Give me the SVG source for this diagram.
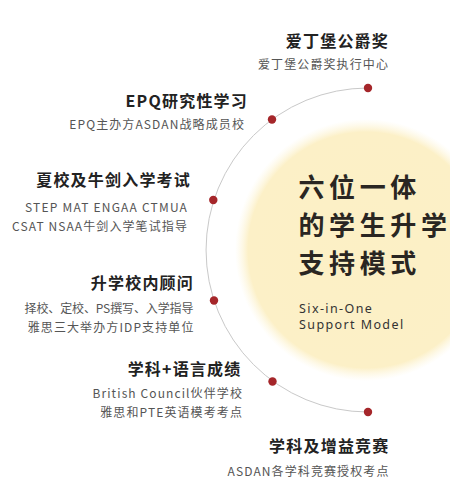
<svg xmlns="http://www.w3.org/2000/svg" width="450" height="498" viewBox="0 0 450 498">
<defs>
<radialGradient id="glow" cx="0.5" cy="0.5" r="0.5">
<stop offset="0" stop-color="#fcf0c5"/>
<stop offset="0.9" stop-color="#fcf0c7"/>
<stop offset="1" stop-color="#fdf6dc" stop-opacity="0"/>
</radialGradient>
</defs>
<style>
text{font-family:"Noto Sans CJK SC","Noto Sans",sans-serif}
.t{font-size:16px;font-weight:bold;fill:#222;letter-spacing:1.2px;text-anchor:end}
.s{font-size:12px;fill:#555;letter-spacing:1.1px;text-anchor:end}
.c{font-size:26px;font-weight:bold;fill:#2a2622;letter-spacing:4.6px}
.e{font-family:"Noto Sans",sans-serif;font-size:12.5px;fill:#333;letter-spacing:1.4px}
.dot{fill:#a5262a}
.arc{fill:none;stroke:#c9c9c9;stroke-width:1}
</style>
<rect width="450" height="498" fill="#ffffff"/>
<circle cx="366" cy="250" r="131" fill="url(#glow)"/>
<g id="connectors">
<path class="arc" d="M368,88 A162,162 0 0 0 368,412"/>
</g>
<g id="center">
<text class="c" x="298.5" y="196.5">六位一体</text>
<text class="c" x="298.5" y="235">的学生升学</text>
<text class="c" x="298.5" y="273">支持模式</text>
<text class="e" x="299" y="312.5">Six-in-One</text>
<text class="e" x="299" y="329.3">Support Model</text>
</g>
<g id="n1">
<circle class="dot" cx="368" cy="88" r="4.2"/>
<text class="t" x="389" y="47">爱丁堡公爵奖</text>
<text class="s" x="389" y="69">爱丁堡公爵奖执行中心</text>
</g>
<g id="n2">
<circle class="dot" cx="272" cy="119.5" r="4.2"/>
<text class="t" x="248" y="107">EPQ研究性学习</text>
<text class="s" x="245" y="129">EPQ主办方ASDAN战略成员校</text>
</g>
<g id="n3">
<circle class="dot" cx="213.3" cy="200" r="4.2"/>
<text class="t" x="191" y="186">夏校及牛剑入学考试</text>
<text class="s" x="188" y="211.5" textLength="163" lengthAdjust="spacing">STEP MAT ENGAA CTMUA</text>
<text class="s" x="188" y="230.5">CSAT NSAA牛剑入学笔试指导</text>
</g>
<g id="n4">
<circle class="dot" cx="214" cy="300.5" r="4.2"/>
<text class="t" x="194" y="289">升学校内顾问</text>
<text class="s" x="194.5" y="313" textLength="170" lengthAdjust="spacing">择校、定校、PS撰写、入学指导</text>
<text class="s" x="194.5" y="332">雅思三大举办方IDP支持单位</text>
</g>
<g id="n5">
<circle class="dot" cx="272.5" cy="381.5" r="4.2"/>
<text class="t" x="241.5" y="375">学科+语言成绩</text>
<text class="s" x="243" y="398">British Council伙伴学校</text>
<text class="s" x="243" y="417">雅思和PTE英语模考考点</text>
</g>
<g id="n6">
<circle class="dot" cx="368" cy="412" r="4.2"/>
<text class="t" x="389.5" y="452">学科及增益竞赛</text>
<text class="s" x="389.5" y="475.5">ASDAN各学科竞赛授权考点</text>
</g>
</svg>
